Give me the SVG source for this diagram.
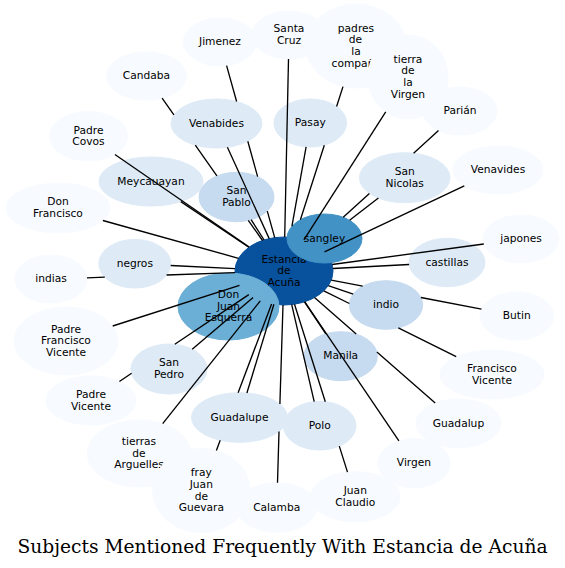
<svg xmlns="http://www.w3.org/2000/svg" width="565" height="568" viewBox="0 0 565 568">
<style>
.l0{fill:#f7fbff;stroke:#f7fbff}
.l1{fill:#deebf7;stroke:#deebf7}
.l2{fill:#c6dbef;stroke:#c6dbef}
.l3{fill:#6baed6;stroke:#6baed6}
.l4{fill:#4292c6;stroke:#4292c6}
.l5{fill:#08519c;stroke:#08519c}
.node text{font-family:"DejaVu Sans",Verdana,sans-serif;font-size:10.67px;text-anchor:middle;fill:#000}
#edges path{stroke:#000;stroke-width:1.33;fill:none}
.title{font-family:"DejaVu Serif",serif;font-size:18.67px;text-anchor:middle;fill:#000}
</style>
<rect width="565" height="568" fill="#fff"/>
<g id="nodes">
<g id="n-estancia" class="node"><ellipse class="l5" cx="284" cy="271" rx="49" ry="34"/><text y="262.5"><tspan x="284">Estancia</tspan><tspan x="284" dy="11.7">de</tspan><tspan x="284" dy="11.7">Acuña</tspan></text></g>
<g id="n-sangley" class="node"><ellipse class="l4" cx="324.5" cy="238.5" rx="37.5" ry="24.5"/><text x="324.5" y="241.7">sangley</text></g>
<g id="n-donjuan" class="node"><ellipse class="l3" cx="228.5" cy="306.5" rx="50.5" ry="33.5"/><text y="298"><tspan x="228.5">Don</tspan><tspan x="228.5" dy="11.7">Juan</tspan><tspan x="228.5" dy="11.7">Esquerra</tspan></text></g>
<g id="n-sanpablo" class="node"><ellipse class="l2" cx="236.5" cy="197" rx="37.5" ry="24.7"/><text y="194.35"><tspan x="236.5">San</tspan><tspan x="236.5" dy="11.7">Pablo</tspan></text></g>
<g id="n-indio" class="node"><ellipse class="l2" cx="386" cy="305" rx="36.7" ry="24.3"/><text x="386" y="308.2">indio</text></g>
<g id="n-manila" class="node"><ellipse class="l2" cx="340.7" cy="356.2" rx="36.7" ry="24.5"/><text x="340.7" y="359.4">Manila</text></g>
<g id="n-venabides" class="node"><ellipse class="l1" cx="216.5" cy="123.5" rx="45.5" ry="24.5"/><text x="216.5" y="126.7">Venabides</text></g>
<g id="n-pasay" class="node"><ellipse class="l1" cx="310.3" cy="123" rx="36.3" ry="24"/><text x="310.3" y="126.2">Pasay</text></g>
<g id="n-meycauayan" class="node"><ellipse class="l1" cx="151" cy="181.5" rx="52" ry="24.5"/><text x="151" y="184.7">Meycauayan</text></g>
<g id="n-negros" class="node"><ellipse class="l1" cx="134.8" cy="263.7" rx="36" ry="24.3"/><text x="134.8" y="266.9">negros</text></g>
<g id="n-sannicolas" class="node"><ellipse class="l1" cx="404.7" cy="177.7" rx="45.3" ry="25"/><text y="175.05"><tspan x="404.7">San</tspan><tspan x="404.7" dy="11.7">Nicolas</tspan></text></g>
<g id="n-castillas" class="node"><ellipse class="l1" cx="447" cy="262.5" rx="38" ry="24.2"/><text x="447" y="265.7">castillas</text></g>
<g id="n-sanpedro" class="node"><ellipse class="l1" cx="169" cy="369" rx="38" ry="25"/><text y="366.35"><tspan x="169">San</tspan><tspan x="169" dy="11.7">Pedro</tspan></text></g>
<g id="n-guadalupe" class="node"><ellipse class="l1" cx="239.5" cy="417.5" rx="48" ry="24.8"/><text x="239.5" y="420.7">Guadalupe</text></g>
<g id="n-polo" class="node"><ellipse class="l1" cx="319.7" cy="425.7" rx="36.3" ry="24.3"/><text x="319.7" y="428.9">Polo</text></g>
<g id="n-jimenez" class="node"><ellipse class="l0" cx="220" cy="42" rx="36.7" ry="24"/><text x="220" y="45.2">Jimenez</text></g>
<g id="n-santacruz" class="node"><ellipse class="l0" cx="289" cy="35" rx="37" ry="24"/><text y="32.35"><tspan x="289">Santa</tspan><tspan x="289" dy="11.7">Cruz</tspan></text></g>
<g id="n-padres" class="node"><ellipse class="l0" cx="356" cy="46" rx="50" ry="42"/><text y="31.65"><tspan x="356">padres</tspan><tspan x="355.5" dy="11.7">de</tspan><tspan x="356" dy="11.7">la</tspan><tspan x="353" dy="11.7">compañ</tspan></text></g>
<g id="n-tierravirgen" class="node"><ellipse class="l0" cx="408" cy="77" rx="40" ry="42"/><text y="62.65"><tspan x="408">tierra</tspan><tspan x="408" dy="11.7">de</tspan><tspan x="408" dy="11.7">la</tspan><tspan x="408" dy="11.7">Virgen</tspan></text></g>
<g id="n-parian" class="node"><ellipse class="l0" cx="460" cy="111" rx="37" ry="24"/><text x="460" y="114.2">Parián</text></g>
<g id="n-candaba" class="node"><ellipse class="l0" cx="146.5" cy="76" rx="40" ry="24"/><text x="146.5" y="79.2">Candaba</text></g>
<g id="n-padrecovos" class="node"><ellipse class="l0" cx="88.5" cy="136.3" rx="39" ry="24.7"/><text y="133.65"><tspan x="88.5">Padre</tspan><tspan x="88.5" dy="11.7">Covos</tspan></text></g>
<g id="n-venavides" class="node"><ellipse class="l0" cx="498" cy="170" rx="45" ry="24"/><text x="498" y="173.2">Venavides</text></g>
<g id="n-donfrancisco" class="node"><ellipse class="l0" cx="58" cy="208" rx="52" ry="24.8"/><text y="205.35"><tspan x="58">Don</tspan><tspan x="58" dy="11.7">Francisco</tspan></text></g>
<g id="n-japones" class="node"><ellipse class="l0" cx="521" cy="239" rx="38" ry="24"/><text x="521" y="242.2">japones</text></g>
<g id="n-indias" class="node"><ellipse class="l0" cx="51" cy="279" rx="36" ry="24"/><text x="51" y="282.2">indias</text></g>
<g id="n-butin" class="node"><ellipse class="l0" cx="516.7" cy="316" rx="36.7" ry="24"/><text x="516.7" y="319.2">Butin</text></g>
<g id="n-padrefranciscovicente" class="node"><ellipse class="l0" cx="66" cy="341" rx="52" ry="34"/><text y="332.5"><tspan x="66">Padre</tspan><tspan x="66" dy="11.7">Francisco</tspan><tspan x="66" dy="11.7">Vicente</tspan></text></g>
<g id="n-franciscovicente" class="node"><ellipse class="l0" cx="492" cy="374.5" rx="52" ry="24.5"/><text y="371.85"><tspan x="492">Francisco</tspan><tspan x="492" dy="11.7">Vicente</tspan></text></g>
<g id="n-padrevicente" class="node"><ellipse class="l0" cx="91" cy="400.5" rx="45" ry="24.5"/><text y="397.85"><tspan x="91">Padre</tspan><tspan x="91" dy="11.7">Vicente</tspan></text></g>
<g id="n-guadalup" class="node"><ellipse class="l0" cx="458.5" cy="423.3" rx="42.5" ry="24.3"/><text x="458.5" y="426.5">Guadalup</text></g>
<g id="n-tierrasarguelles" class="node"><ellipse class="l0" cx="139" cy="453.5" rx="51.7" ry="33.5"/><text y="445"><tspan x="139">tierras</tspan><tspan x="139" dy="11.7">de</tspan><tspan x="139" dy="11.7">Arguelles</tspan></text></g>
<g id="n-virgen" class="node"><ellipse class="l0" cx="414" cy="463.2" rx="36" ry="24.5"/><text x="414" y="466.4">Virgen</text></g>
<g id="n-frayjuan" class="node"><ellipse class="l0" cx="201.3" cy="490.5" rx="48.7" ry="42"/><text y="476.15"><tspan x="201.3">fray</tspan><tspan x="201.3" dy="11.7">Juan</tspan><tspan x="201.3" dy="11.7">de</tspan><tspan x="201.3" dy="11.7">Guevara</tspan></text></g>
<g id="n-calamba" class="node"><ellipse class="l0" cx="276.7" cy="507.5" rx="40" ry="24.7"/><text x="276.7" y="510.7">Calamba</text></g>
<g id="n-juanclaudio" class="node"><ellipse class="l0" cx="355.3" cy="496.7" rx="44.7" ry="25"/><text y="494.05"><tspan x="355.3">Juan</tspan><tspan x="355.3" dy="11.7">Claudio</tspan></text></g>
</g>
<g id="edges">
<path d="M226.6,65.6L236.6,101.5M247.8,141.3L257.6,176.6M267.3,211.1L274.7,237.6"/>
<path d="M288.5,59L284.7,237"/>
<path d="M343,86.6L336.6,106.5M324.3,145.2L300.4,219.8"/>
<path d="M385.7,111.9L303.9,239.9"/>
<path d="M438.5,130.5L413.6,153.2M369.4,193.4L343.2,217.2"/>
<path d="M378.4,198L349.6,220.3"/>
<path d="M464.3,185.9L324.5,251.9"/>
<path d="M483.8,244L332.1,264.5"/>
<path d="M409.1,264.5L332.9,268.5"/>
<path d="M353.2,294.1L328.2,285.7"/>
<path d="M481.5,309.2L420.9,297.5M362.7,286.2L331.2,280.1"/>
<path d="M456.2,356.7L398.3,327.9M349.4,303.5L323.8,290.8"/>
<path d="M325.8,333.8L304.5,301.9"/>
<path d="M435.2,403L376.9,352M356.2,334L314.5,297.6"/>
<path d="M398.9,440.9L304.8,301.8"/>
<path d="M314.2,401.7L291.7,304.6"/>
<path d="M347.5,472.1L339.3,446.1M325.3,401.7L294.5,304.2"/>
<path d="M277.5,482.8L279,431.5M279.9,404.1L283,305"/>
<path d="M246.9,393L273.9,304.3"/>
<path d="M216.4,450.6L220.2,440.2M238.1,392.7L271.6,303.9"/>
<path d="M162.7,423.7L260.3,300.8"/>
<path d="M119.4,381.5L131.6,373.3M174.8,344.3L248.8,294.6"/>
<path d="M192.2,349.2L253.1,297.4"/>
<path d="M112.7,326L239.5,285.3"/>
<path d="M87,277.8L104.8,277.2M166.6,275L235.1,272.7"/>
<path d="M170.7,265.5L235.1,268.6"/>
<path d="M102.9,220.5L238.5,258.3"/>
<path d="M180.8,201.6L248.8,247.3"/>
<path d="M114.9,154.5L249.2,247"/>
<path d="M162.1,98.1L173.9,114.9M195.3,145.2L216.9,175.9M248.3,220.4L262.5,240.5"/>
<path d="M227.4,147.3L269.2,238.6"/>
<path d="M251.1,219.7L264.1,240"/>
<path d="M306.1,146.8L291.9,226.3"/>
</g>
<text class="title" x="282.5" y="553">Subjects Mentioned Frequently With Estancia de Acuña</text>
</svg>
